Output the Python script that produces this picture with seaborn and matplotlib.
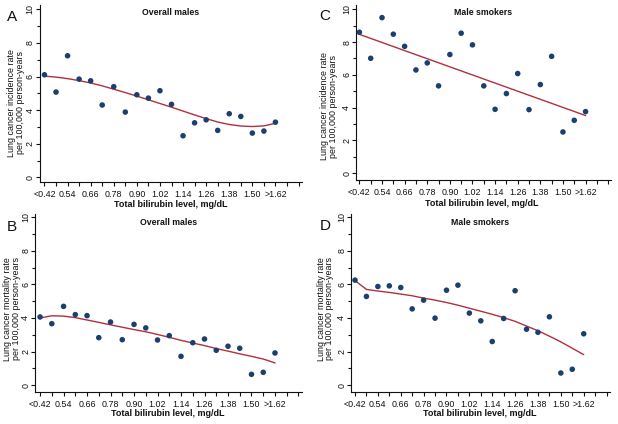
import numpy as np
import pandas as pd
import matplotlib
matplotlib.use("Agg")
import matplotlib.pyplot as plt
import seaborn as sns
from matplotlib.ticker import FixedLocator

sns.set_style("ticks")
plt.rcParams['font.family'] = ['Liberation Sans', 'DejaVu Sans']

# bilirubin categories (index positions 0..20)
levels = ["<0.42", "0.48", "0.54", "0.60", "0.66", "0.72", "0.78", "0.84", "0.90", "0.96",
          "1.02", "1.08", "1.14", "1.20", "1.26", "1.32", "1.38", "1.44", "1.50", "1.56", ">1.62"]
tick_labels = ["<0.42", "0.54", "0.66", "0.78", "0.90", "1.02", "1.14", "1.26", "1.38", "1.50", ">1.62"]

# Panel A: incidence, overall males
inc_overall = [6.11, 5.08, 7.24, 5.85, 5.75, 4.31, 5.40, 3.89, 4.92, 4.72, 5.16,
               4.35, 2.48, 3.25, 3.43, 2.80, 3.79, 3.63, 2.64, 2.76, 3.29]
inc_overall_fit = [6.03, 5.97, 5.88, 5.76, 5.62, 5.45, 5.25, 5.05, 4.84, 4.62, 4.40,
                   4.18, 3.95, 3.72, 3.50, 3.30, 3.15, 3.06, 3.03, 3.07, 3.22]

# Panel C: incidence, male smokers
inc_smokers = [8.60, 7.01, 9.49, 8.48, 7.74, 6.30, 6.73, 5.33, 7.24, 8.54, 7.83,
               5.33, 3.90, 4.86, 6.08, 3.88, 5.41, 7.13, 2.52, 3.23, 3.76]
inc_smokers_fit_x = [0, 20]
inc_smokers_fit = [8.47, 3.52]

# Panel B: mortality, overall males
mort_overall = [4.06, 3.66, 4.69, 4.20, 4.14, 2.83, 3.76, 2.71, 3.62, 3.41, 2.69,
                2.95, 1.72, 2.53, 2.75, 2.08, 2.32, 2.20, 0.65, 0.77, 1.92]
mort_overall_fit = [4.00, 4.13, 4.11, 4.02, 3.88, 3.74, 3.59, 3.45, 3.31, 3.18, 3.02,
                    2.85, 2.67, 2.51, 2.36, 2.18, 2.03, 1.87, 1.72, 1.56, 1.33]

# Panel D: mortality, male smokers
mort_smokers = [6.25, 5.28, 5.87, 5.91, 5.81, 4.54, 5.06, 3.99, 5.65, 5.95, 4.29,
                3.83, 2.60, 3.97, 5.62, 3.33, 3.15, 4.07, 0.73, 0.95, 3.06]
mort_smokers_fit = [6.22, 5.70, 5.60, 5.52, 5.42, 5.32, 5.18, 5.06, 4.92, 4.76, 4.58,
                    4.40, 4.22, 4.02, 3.80, 3.52, 3.24, 2.92, 2.58, 2.20, 1.82]

W, H = 618, 424
fig = plt.figure(figsize=(W / 100, H / 100), dpi=100)

PT_COLOR = "#1b3f6e"
LN_COLOR = "#b0303f"
TXT = "#111111"

def add_axes(px):
    l, t, r, b = px
    return fig.add_axes([l / W, 1 - b / H, (r - l) / W, (b - t) / H])

def fx(x):
    return x / W

def fy(y):
    return 1 - y / H

panels = [
    dict(box=(39.5, 5, 302, 182), y=inc_overall, fx=list(range(21)), fy=inc_overall_fit,
         title="Overall males", letter="A", letter_xy=(12, 17),
         ylab="Lung cancer incidence rate\nper 100,000 person-years", ylab_xy=(16.5, 103),
         xlab_xy=(171, 205), ylim=(-0.27, 10.26), xlim=(-0.43, 22.3)),
    dict(box=(356, 5, 611, 180), y=inc_smokers, fx=inc_smokers_fit_x, fy=inc_smokers_fit,
         title="Male smokers", letter="C", letter_xy=(325, 16),
         ylab="Lung cancer incidence rate\nper 100,000 person-years", ylab_xy=(329, 106),
         xlab_xy=(482, 204), ylim=(-0.41, 10.26), xlim=(-0.3, 22.25)),
    dict(box=(35, 214, 302, 392), y=mort_overall, fx=list(range(21)), fy=mort_overall_fit,
         title="Overall males", letter="B", letter_xy=(12, 227),
         ylab="Lung cancer mortality rate\nper 100,000 person-years", ylab_xy=(12.5, 309),
         xlab_xy=(168, 414), ylim=(-0.4, 10.18), xlim=(-0.43, 22.3)),
    dict(box=(351, 214, 610, 392), y=mort_smokers, fx=list(range(21)), fy=mort_smokers_fit,
         title="Male smokers", letter="D", letter_xy=(325, 226),
         ylab="Lung cancer mortality rate\nper 100,000 person-years", ylab_xy=(325.5, 309),
         xlab_xy=(480, 414), ylim=(-0.4, 10.18), xlim=(-0.35, 22.3)),
]

for p in panels:
    ax = add_axes(p["box"])
    df = pd.DataFrame({"x": np.arange(len(levels)), "y": p["y"]})
    fit = pd.DataFrame({"x": p["fx"], "y": p["fy"]})
    sns.lineplot(data=fit, x="x", y="y", ax=ax, color=LN_COLOR, lw=1.0)
    sns.scatterplot(data=df, x="x", y="y", ax=ax, color=PT_COLOR, s=16, edgecolor="none", zorder=3)
    ax.set_xlim(*p["xlim"])
    ax.set_ylim(*p["ylim"])
    ax.xaxis.set_major_locator(FixedLocator(list(range(0, 23))))
    ax.set_xticklabels([tick_labels[i // 2] if (i % 2 == 0 and i <= 20) else "" for i in range(23)])
    ax.yaxis.set_major_locator(FixedLocator([0, 2, 4, 6, 8, 10]))
    ax.yaxis.set_minor_locator(FixedLocator([1, 3, 5, 7, 9]))
    ax.set_yticklabels(["0", "2", "4", "6", "8", "10"], rotation=90, va="center")
    ax.tick_params(axis="x", length=3, width=0.8, labelsize=6.4, pad=2.5, colors=TXT)
    ax.tick_params(axis="y", which="major", length=3, width=0.8, labelsize=6.4, pad=0.5, colors=TXT)
    ax.tick_params(axis="y", which="minor", length=2, width=0.8, colors=TXT)
    for s in ["top", "right"]:
        ax.spines[s].set_visible(False)
    for s in ["left", "bottom"]:
        ax.spines[s].set_linewidth(0.8)
        ax.spines[s].set_color(TXT)
    ax.set_xlabel("")
    ax.set_ylabel("")
    fig.text(fx(p["xlab_xy"][0]), fy(p["xlab_xy"][1]), "Total bilirubin level, mg/dL",
             fontsize=6.5, fontweight="bold", ha="center", va="center", color=TXT)
    fig.text(fx(p["ylab_xy"][0]), fy(p["ylab_xy"][1]), p["ylab"], rotation=90,
             fontsize=6.4, ha="center", va="center", multialignment="center",
             linespacing=1.0, color=TXT)
    ax.text(0.5, 0.955, p["title"], transform=ax.transAxes, ha="center", va="center",
            fontsize=6.3, fontweight="bold", color=TXT)
    fig.text(fx(p["letter_xy"][0]), fy(p["letter_xy"][1]), p["letter"], fontsize=11,
             ha="center", va="center", color=TXT)

fig.savefig("out.png", dpi=100)
